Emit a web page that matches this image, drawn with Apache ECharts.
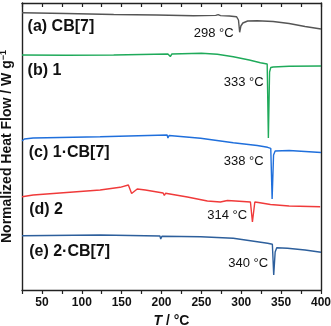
<!DOCTYPE html>
<html>
<head>
<meta charset="utf-8">
<script src="https://cdn.jsdelivr.net/npm/echarts@6/dist/echarts.min.js"></script>
<style>
  html, body { margin: 0; padding: 0; background: #fff; }
  #chart { width: 331px; height: 326px; }
</style>
</head>
<body>
<div id="chart"></div>
<script>
// temperatures (°C) and normalized heat flow (arb. units, offset per trace)
const cb7T  = [25, 80, 140, 194, 196, 240, 268, 271, 274, 285, 294, 296.5, 298, 299.5, 302, 308, 320, 340, 360, 380, 400];
const cb7HF = [277.3, 276.5, 275.5, 275, 274, 274.2, 274.6, 275.4, 274.4, 274, 273.3, 270, 257.7, 264, 267, 269, 269.3, 268.5, 266.5, 263.5, 261];

const g1T  = [25, 80, 140, 208, 211, 213, 250, 270, 290, 310, 324, 332.5, 334, 335.5, 337, 340, 360, 400];
const g1HF = [235, 234.8, 235, 236, 233.5, 236, 236.7, 235.7, 233.3, 230, 227.3, 226, 152, 218, 222.5, 223, 223.8, 224];

const c1T  = [25, 28, 39, 123, 207, 208, 209.5, 249, 290, 320, 333, 337, 338.7, 340.5, 342.5, 360, 400];
const c1HF = [149, 151, 152, 153.3, 155, 152, 154.5, 151.7, 147.3, 144.5, 142.7, 141.7, 91, 135, 139, 139.5, 137.5];

const g2T  = [25, 39, 123, 148, 158.4, 162.5, 169.5, 179.7, 202, 203.5, 205, 232.4, 257.5, 273.8, 282.6, 292.7, 311.5, 314, 317, 321.5, 336.6, 360, 399];
const g2HF = [93.3, 95, 100, 102.7, 105, 96.5, 101, 100, 97, 94.5, 96.7, 93, 89, 88, 89.5, 89, 88, 68, 88, 87.5, 85.5, 84, 83.3];

const c2T  = [25, 123, 198, 199, 200.5, 249, 290, 333, 339, 340.7, 342.5, 344.5, 358, 380, 400];
const c2HF = [54.3, 55, 54, 51, 53.8, 53.3, 51.7, 46.7, 45.7, 15, 38, 42.3, 41.7, 40, 37.7];

const peakTemps = [298, 333, 338, 314, 340];
const traceNames = ['(a) CB[7]', '(b) 1', '(c) 1·CB[7]', '(d) 2', '(e) 2·CB[7]'];
const xTicks = [50, 100, 150, 200, 250, 300, 350, 400];

const chart = echarts.init(document.getElementById('chart'));
const zip = (a, b) => a.map((v, i) => [v, b[i]]);
const FONT = 'Liberation Sans, Arial, sans-serif';

const traces = [
  {t: cb7T, hf: cb7HF, color: '#555555'},
  {t: g1T, hf: g1HF, color: '#1faa5a'},
  {t: c1T, hf: c1HF, color: '#1f6fdc'},
  {t: g2T, hf: g2HF, color: '#f03a3a'},
  {t: c2T, hf: c2HF, color: '#2d5f9c'}
];

// label anchors (data coordinates)
const nameAnchors = [[32, 263], [32, 219.5], [33.5, 137], [34, 80], [34, 38.3]];
const tempAnchors = [[290.5, 256.7], [328, 208], [328, 129], [307.3, 75], [333.7, 26.7]];

const series = traces.map(tr => ({
  type: 'line',
  data: zip(tr.t, tr.hf),
  showSymbol: false,
  symbol: 'none',
  lineStyle: {color: tr.color, width: 1.4},
  animation: false
}));

series.push({
  type: 'scatter',
  symbolSize: 0,
  itemStyle: {opacity: 1},
  data: traceNames.map((n, i) => ({value: nameAnchors[i], name: n})),
  label: {
    show: true, position: 'right', distance: 0, formatter: '{b}', opacity: 1,
    fontFamily: FONT, fontWeight: 'bold', fontSize: 16, color: '#111'
  },
  animation: false
});

series.push({
  type: 'scatter',
  symbolSize: 0,
  itemStyle: {opacity: 1},
  data: peakTemps.map((p, i) => ({value: tempAnchors[i], name: p + ' °C'})),
  label: {
    show: true, position: 'left', distance: 0, formatter: '{b}', opacity: 1,
    fontFamily: FONT, fontSize: 13, color: '#111'
  },
  animation: false
});

const option = {
  animation: false,
  grid: {left: 22, right: 10, top: 3, bottom: 36, show: false, containLabel: false, outerBoundsMode: 'none'},
  xAxis: [{
    type: 'value', min: 25, max: 400, interval: 25,
    axisLine: {show: true, onZero: false, lineStyle: {color: '#222', width: 1.4}},
    axisTick: {show: true, inside: false, length: 4, lineStyle: {color: '#222', width: 1.2}},
    axisLabel: {
      margin: 7, fontFamily: FONT, fontWeight: 'bold', fontSize: 12, color: '#111',
      formatter: v => (xTicks.indexOf(v) >= 0 ? String(v) : '')
    },
    splitLine: {show: false},
    name: '{i|T} / °C',
    nameLocation: 'middle',
    nameGap: 21,
    nameTextStyle: {
      fontFamily: FONT, fontWeight: 'bold', fontSize: 14, color: '#111',
      rich: {i: {fontFamily: FONT, fontWeight: 'bold', fontStyle: 'italic', fontSize: 14, color: '#111'}}
    }
  }, {
    type: 'value', position: 'top', min: 25, max: 400, interval: 25,
    axisLine: {show: true, onZero: false, lineStyle: {color: '#222', width: 1.4}},
    axisTick: {show: true, inside: true, length: 4, lineStyle: {color: '#222', width: 1.2}},
    axisLabel: {show: false},
    splitLine: {show: false}
  }],
  yAxis: [{
    type: 'value', min: 0, max: 287,
    axisLine: {show: true, onZero: false, lineStyle: {color: '#222', width: 1.4}},
    axisTick: {show: false},
    axisLabel: {show: false},
    splitLine: {show: false},
    name: 'Normalized Heat Flow / W g{s|−1}',
    nameLocation: 'middle',
    nameGap: 6,
    nameRotate: 90,
    nameTextStyle: {
      fontFamily: FONT, fontWeight: 'bold', fontSize: 14, color: '#111',
      rich: {s: {fontFamily: FONT, fontWeight: 'bold', fontSize: 9, color: '#111', verticalAlign: 'top', padding: [0, 0, 8, 0]}}
    }
  }, {
    type: 'value', position: 'right', min: 0, max: 287,
    axisLine: {show: true, onZero: false, lineStyle: {color: '#222', width: 1.4}},
    axisTick: {show: false},
    axisLabel: {show: false},
    splitLine: {show: false}
  }],
  series: series
};

chart.setOption(option);
</script>
</body>
</html>
